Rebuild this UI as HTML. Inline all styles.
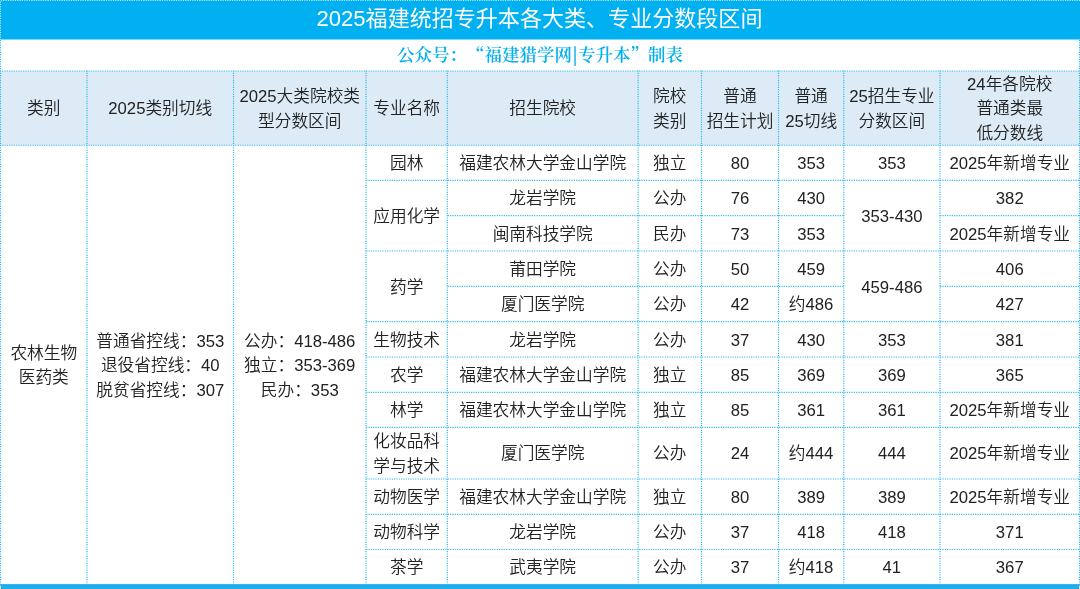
<!DOCTYPE html>
<html lang="zh-CN">
<head>
<meta charset="utf-8">
<title>2025福建统招专升本各大类、专业分数段区间</title>
<style>
html,body{margin:0;padding:0;}
body{width:1080px;height:589px;position:relative;overflow:hidden;background:#fff;
 font-family:"Liberation Sans","Noto Sans CJK SC",sans-serif;color:#222;font-weight:350;text-spacing-trim:space-all;}
svg{position:absolute;left:0;top:0;}
#title{position:absolute;left:-0.5px;top:-1px;width:1080px;height:40px;color:#fff;font-weight:400;
 font-size:22.06px;line-height:40px;text-align:center;white-space:nowrap;}
#sub{position:absolute;left:0;top:39px;width:1080px;height:30px;color:#00b0f0;
 font-family:"Liberation Serif","Noto Serif CJK SC",serif;font-weight:600;font-size:17.5px;line-height:30px;text-align:center;white-space:nowrap;}
.q{font-family:"Noto Serif CJK SC",serif;}
.b{font-weight:900;}
.c{position:absolute;display:flex;align-items:center;justify-content:center;text-align:center;
 font-size:16.7px;line-height:24.5px;white-space:nowrap;}
</style>
</head>
<body>
<svg width="1080" height="589" viewBox="0 0 1080 589">
<rect x="0" y="0" width="1080" height="39.5" fill="#00b0f0"/>
<rect x="0" y="71" width="1080" height="74.25" fill="#ddebf7"/>
<rect x="0" y="584.2" width="1080" height="4.8" fill="#20aeea"/>
<rect x="0" y="584.6" width="1080" height="1" fill="#17a9e8"/>
<g stroke="#2bbaf2" stroke-width="1.1667" stroke-dasharray="1.1667 1.1667" fill="none">
<line x1="-0.25" y1="71" x2="1080" y2="71" stroke-dashoffset="0.000"/>
<line x1="-0.25" y1="145.25" x2="1080" y2="145.25" stroke-dashoffset="0.000"/>
<line x1="446.717" y1="180.4" x2="843.75" y2="180.4" stroke-dashoffset="1.287"/>
<line x1="939.417" y1="180.4" x2="1079.5" y2="180.4" stroke-dashoffset="1.640"/>
<line x1="365.417" y1="180.4" x2="447.3" y2="180.4" stroke-dashoffset="1.656"/>
<line x1="843.167" y1="180.4" x2="940" y2="180.4" stroke-dashoffset="1.059"/>
<line x1="446.717" y1="215.7" x2="843.75" y2="215.7" stroke-dashoffset="1.287"/>
<line x1="939.417" y1="215.7" x2="1079.5" y2="215.7" stroke-dashoffset="1.640"/>
<line x1="446.717" y1="251" x2="843.75" y2="251" stroke-dashoffset="1.287"/>
<line x1="939.417" y1="251" x2="1079.5" y2="251" stroke-dashoffset="1.640"/>
<line x1="365.417" y1="251" x2="447.3" y2="251" stroke-dashoffset="1.656"/>
<line x1="843.167" y1="251" x2="940" y2="251" stroke-dashoffset="1.059"/>
<line x1="446.717" y1="286.4" x2="843.75" y2="286.4" stroke-dashoffset="1.287"/>
<line x1="939.417" y1="286.4" x2="1079.5" y2="286.4" stroke-dashoffset="1.640"/>
<line x1="446.717" y1="321.7" x2="843.75" y2="321.7" stroke-dashoffset="1.287"/>
<line x1="939.417" y1="321.7" x2="1079.5" y2="321.7" stroke-dashoffset="1.640"/>
<line x1="365.417" y1="321.7" x2="447.3" y2="321.7" stroke-dashoffset="1.656"/>
<line x1="843.167" y1="321.7" x2="940" y2="321.7" stroke-dashoffset="1.059"/>
<line x1="446.717" y1="357" x2="843.75" y2="357" stroke-dashoffset="1.287"/>
<line x1="939.417" y1="357" x2="1079.5" y2="357" stroke-dashoffset="1.640"/>
<line x1="365.417" y1="357" x2="447.3" y2="357" stroke-dashoffset="1.656"/>
<line x1="843.167" y1="357" x2="940" y2="357" stroke-dashoffset="1.059"/>
<line x1="446.717" y1="392.3" x2="843.75" y2="392.3" stroke-dashoffset="1.287"/>
<line x1="939.417" y1="392.3" x2="1079.5" y2="392.3" stroke-dashoffset="1.640"/>
<line x1="365.417" y1="392.3" x2="447.3" y2="392.3" stroke-dashoffset="1.656"/>
<line x1="843.167" y1="392.3" x2="940" y2="392.3" stroke-dashoffset="1.059"/>
<line x1="446.717" y1="427.4" x2="843.75" y2="427.4" stroke-dashoffset="1.287"/>
<line x1="939.417" y1="427.4" x2="1079.5" y2="427.4" stroke-dashoffset="1.640"/>
<line x1="365.417" y1="427.4" x2="447.3" y2="427.4" stroke-dashoffset="1.656"/>
<line x1="843.167" y1="427.4" x2="940" y2="427.4" stroke-dashoffset="1.059"/>
<line x1="446.717" y1="479" x2="843.75" y2="479" stroke-dashoffset="1.287"/>
<line x1="939.417" y1="479" x2="1079.5" y2="479" stroke-dashoffset="1.640"/>
<line x1="365.417" y1="479" x2="447.3" y2="479" stroke-dashoffset="1.656"/>
<line x1="843.167" y1="479" x2="940" y2="479" stroke-dashoffset="1.059"/>
<line x1="446.717" y1="514.3" x2="843.75" y2="514.3" stroke-dashoffset="1.287"/>
<line x1="939.417" y1="514.3" x2="1079.5" y2="514.3" stroke-dashoffset="1.640"/>
<line x1="365.417" y1="514.3" x2="447.3" y2="514.3" stroke-dashoffset="1.656"/>
<line x1="843.167" y1="514.3" x2="940" y2="514.3" stroke-dashoffset="1.059"/>
<line x1="446.717" y1="549.5" x2="843.75" y2="549.5" stroke-dashoffset="1.287"/>
<line x1="939.417" y1="549.5" x2="1079.5" y2="549.5" stroke-dashoffset="1.640"/>
<line x1="365.417" y1="549.5" x2="447.3" y2="549.5" stroke-dashoffset="1.656"/>
<line x1="843.167" y1="549.5" x2="940" y2="549.5" stroke-dashoffset="1.059"/>
<line x1="87" y1="70.4167" x2="87" y2="584.2" stroke-dashoffset="0.025"/>
<line x1="233.5" y1="70.4167" x2="233.5" y2="584.2" stroke-dashoffset="0.025"/>
<line x1="366" y1="70.4167" x2="366" y2="584.2" stroke-dashoffset="0.025"/>
<line x1="447.3" y1="70.4167" x2="447.3" y2="584.2" stroke-dashoffset="0.025"/>
<line x1="638.1" y1="70.4167" x2="638.1" y2="584.2" stroke-dashoffset="0.025"/>
<line x1="701.5" y1="70.4167" x2="701.5" y2="584.2" stroke-dashoffset="0.025"/>
<line x1="778.5" y1="70.4167" x2="778.5" y2="584.2" stroke-dashoffset="0.025"/>
<line x1="843.75" y1="70.4167" x2="843.75" y2="584.2" stroke-dashoffset="0.025"/>
<line x1="940" y1="70.4167" x2="940" y2="584.2" stroke-dashoffset="0.025"/>
<line x1="0.5" y1="38.9166" x2="0.5" y2="584.2" stroke-dashoffset="1.192"/>
<line x1="1079.5" y1="38.9166" x2="1079.5" y2="584.2" stroke-dashoffset="1.192"/>
</g>
<g stroke="#fff" stroke-width="1" stroke-dasharray="1.1667 1.1667" fill="none" stroke-opacity="0.75">
<line x1="0.9167" y1="0.5" x2="1080" y2="0.5"/>
<line x1="0.5" y1="1.5567" x2="0.5" y2="39.5"/>
</g>
<rect x="0" y="585.6" width="1" height="3.4" fill="#e2e2e2"/>
<rect x="1079" y="585.6" width="1" height="3.4" fill="#e2e2e2"/>
</svg>
<div id="title">2025福建统招专升本各大类、专业分数段区间</div>
<div id="sub">公众号：<span class="q">“</span>福建猎学网<span class="q b">|</span>专升本<span class="q">”</span>制表</div>
<div class="c" style="left:0.5px;top:72.5px;width:86.5px;height:74.25px"><span>类别</span></div>
<div class="c" style="left:87px;top:72.5px;width:146.5px;height:74.25px"><span>2025类别切线</span></div>
<div class="c" style="left:233.5px;top:72.5px;width:132.5px;height:74.25px"><span>2025大类院校类<br>型分数区间</span></div>
<div class="c" style="left:366px;top:72.5px;width:81.3px;height:74.25px"><span>专业名称</span></div>
<div class="c" style="left:447.3px;top:72.5px;width:190.8px;height:74.25px"><span>招生院校</span></div>
<div class="c" style="left:638.1px;top:72.5px;width:63.4px;height:74.25px"><span>院校<br>类别</span></div>
<div class="c" style="left:701.5px;top:72.5px;width:77px;height:74.25px"><span>普通<br>招生计划</span></div>
<div class="c" style="left:778.5px;top:72.5px;width:65.25px;height:74.25px"><span>普通<br>25切线</span></div>
<div class="c" style="left:843.75px;top:72.5px;width:96.25px;height:74.25px"><span>25招生专业<br>分数区间</span></div>
<div class="c" style="left:940px;top:72.5px;width:139.5px;height:74.25px"><span>24年各院校<br>普通类最<br>低分数线</span></div>
<div class="c" style="left:0.5px;top:146.75px;width:86.5px;height:439.35px"><span>农林生物<br>医药类</span></div>
<div class="c" style="left:87px;top:146.75px;width:146.5px;height:439.35px"><span>普通省控线：353<br>退役省控线：40<br>脱贫省控线：307</span></div>
<div class="c" style="left:233.5px;top:146.75px;width:132.5px;height:439.35px"><span>公办：418-486<br>独立：353-369<br>民办：353</span></div>
<div class="c" style="left:366px;top:146.75px;width:81.3px;height:35.15px"><span>园林</span></div>
<div class="c" style="left:366px;top:181.9px;width:81.3px;height:70.6px"><span>应用化学</span></div>
<div class="c" style="left:366px;top:252.5px;width:81.3px;height:70.7px"><span>药学</span></div>
<div class="c" style="left:366px;top:323.2px;width:81.3px;height:35.3px"><span>生物技术</span></div>
<div class="c" style="left:366px;top:358.5px;width:81.3px;height:35.3px"><span>农学</span></div>
<div class="c" style="left:366px;top:393.8px;width:81.3px;height:35.1px"><span>林学</span></div>
<div class="c" style="left:366px;top:428.9px;width:81.3px;height:51.6px"><span>化妆品科<br>学与技术</span></div>
<div class="c" style="left:366px;top:480.5px;width:81.3px;height:35.3px"><span>动物医学</span></div>
<div class="c" style="left:366px;top:515.8px;width:81.3px;height:35.2px"><span>动物科学</span></div>
<div class="c" style="left:366px;top:551px;width:81.3px;height:35.1px"><span>茶学</span></div>
<div class="c" style="left:447.3px;top:146.75px;width:190.8px;height:35.15px"><span>福建农林大学金山学院</span></div>
<div class="c" style="left:638.1px;top:146.75px;width:63.4px;height:35.15px"><span>独立</span></div>
<div class="c" style="left:701.5px;top:146.75px;width:77px;height:35.15px"><span>80</span></div>
<div class="c" style="left:778.5px;top:146.75px;width:65.25px;height:35.15px"><span>353</span></div>
<div class="c" style="left:940px;top:146.75px;width:139.5px;height:35.15px"><span>2025年新增专业</span></div>
<div class="c" style="left:447.3px;top:181.9px;width:190.8px;height:35.3px"><span>龙岩学院</span></div>
<div class="c" style="left:638.1px;top:181.9px;width:63.4px;height:35.3px"><span>公办</span></div>
<div class="c" style="left:701.5px;top:181.9px;width:77px;height:35.3px"><span>76</span></div>
<div class="c" style="left:778.5px;top:181.9px;width:65.25px;height:35.3px"><span>430</span></div>
<div class="c" style="left:940px;top:181.9px;width:139.5px;height:35.3px"><span>382</span></div>
<div class="c" style="left:447.3px;top:217.2px;width:190.8px;height:35.3px"><span>闽南科技学院</span></div>
<div class="c" style="left:638.1px;top:217.2px;width:63.4px;height:35.3px"><span>民办</span></div>
<div class="c" style="left:701.5px;top:217.2px;width:77px;height:35.3px"><span>73</span></div>
<div class="c" style="left:778.5px;top:217.2px;width:65.25px;height:35.3px"><span>353</span></div>
<div class="c" style="left:940px;top:217.2px;width:139.5px;height:35.3px"><span>2025年新增专业</span></div>
<div class="c" style="left:447.3px;top:252.5px;width:190.8px;height:35.4px"><span>莆田学院</span></div>
<div class="c" style="left:638.1px;top:252.5px;width:63.4px;height:35.4px"><span>公办</span></div>
<div class="c" style="left:701.5px;top:252.5px;width:77px;height:35.4px"><span>50</span></div>
<div class="c" style="left:778.5px;top:252.5px;width:65.25px;height:35.4px"><span>459</span></div>
<div class="c" style="left:940px;top:252.5px;width:139.5px;height:35.4px"><span>406</span></div>
<div class="c" style="left:447.3px;top:287.9px;width:190.8px;height:35.3px"><span>厦门医学院</span></div>
<div class="c" style="left:638.1px;top:287.9px;width:63.4px;height:35.3px"><span>公办</span></div>
<div class="c" style="left:701.5px;top:287.9px;width:77px;height:35.3px"><span>42</span></div>
<div class="c" style="left:778.5px;top:287.9px;width:65.25px;height:35.3px"><span>约486</span></div>
<div class="c" style="left:940px;top:287.9px;width:139.5px;height:35.3px"><span>427</span></div>
<div class="c" style="left:447.3px;top:323.2px;width:190.8px;height:35.3px"><span>龙岩学院</span></div>
<div class="c" style="left:638.1px;top:323.2px;width:63.4px;height:35.3px"><span>公办</span></div>
<div class="c" style="left:701.5px;top:323.2px;width:77px;height:35.3px"><span>37</span></div>
<div class="c" style="left:778.5px;top:323.2px;width:65.25px;height:35.3px"><span>430</span></div>
<div class="c" style="left:940px;top:323.2px;width:139.5px;height:35.3px"><span>381</span></div>
<div class="c" style="left:447.3px;top:358.5px;width:190.8px;height:35.3px"><span>福建农林大学金山学院</span></div>
<div class="c" style="left:638.1px;top:358.5px;width:63.4px;height:35.3px"><span>独立</span></div>
<div class="c" style="left:701.5px;top:358.5px;width:77px;height:35.3px"><span>85</span></div>
<div class="c" style="left:778.5px;top:358.5px;width:65.25px;height:35.3px"><span>369</span></div>
<div class="c" style="left:940px;top:358.5px;width:139.5px;height:35.3px"><span>365</span></div>
<div class="c" style="left:447.3px;top:393.8px;width:190.8px;height:35.1px"><span>福建农林大学金山学院</span></div>
<div class="c" style="left:638.1px;top:393.8px;width:63.4px;height:35.1px"><span>独立</span></div>
<div class="c" style="left:701.5px;top:393.8px;width:77px;height:35.1px"><span>85</span></div>
<div class="c" style="left:778.5px;top:393.8px;width:65.25px;height:35.1px"><span>361</span></div>
<div class="c" style="left:940px;top:393.8px;width:139.5px;height:35.1px"><span>2025年新增专业</span></div>
<div class="c" style="left:447.3px;top:428.9px;width:190.8px;height:51.6px"><span>厦门医学院</span></div>
<div class="c" style="left:638.1px;top:428.9px;width:63.4px;height:51.6px"><span>公办</span></div>
<div class="c" style="left:701.5px;top:428.9px;width:77px;height:51.6px"><span>24</span></div>
<div class="c" style="left:778.5px;top:428.9px;width:65.25px;height:51.6px"><span>约444</span></div>
<div class="c" style="left:940px;top:428.9px;width:139.5px;height:51.6px"><span>2025年新增专业</span></div>
<div class="c" style="left:447.3px;top:480.5px;width:190.8px;height:35.3px"><span>福建农林大学金山学院</span></div>
<div class="c" style="left:638.1px;top:480.5px;width:63.4px;height:35.3px"><span>独立</span></div>
<div class="c" style="left:701.5px;top:480.5px;width:77px;height:35.3px"><span>80</span></div>
<div class="c" style="left:778.5px;top:480.5px;width:65.25px;height:35.3px"><span>389</span></div>
<div class="c" style="left:940px;top:480.5px;width:139.5px;height:35.3px"><span>2025年新增专业</span></div>
<div class="c" style="left:447.3px;top:515.8px;width:190.8px;height:35.2px"><span>龙岩学院</span></div>
<div class="c" style="left:638.1px;top:515.8px;width:63.4px;height:35.2px"><span>公办</span></div>
<div class="c" style="left:701.5px;top:515.8px;width:77px;height:35.2px"><span>37</span></div>
<div class="c" style="left:778.5px;top:515.8px;width:65.25px;height:35.2px"><span>418</span></div>
<div class="c" style="left:940px;top:515.8px;width:139.5px;height:35.2px"><span>371</span></div>
<div class="c" style="left:447.3px;top:551px;width:190.8px;height:35.1px"><span>武夷学院</span></div>
<div class="c" style="left:638.1px;top:551px;width:63.4px;height:35.1px"><span>公办</span></div>
<div class="c" style="left:701.5px;top:551px;width:77px;height:35.1px"><span>37</span></div>
<div class="c" style="left:778.5px;top:551px;width:65.25px;height:35.1px"><span>约418</span></div>
<div class="c" style="left:940px;top:551px;width:139.5px;height:35.1px"><span>367</span></div>
<div class="c" style="left:843.75px;top:146.75px;width:96.25px;height:35.15px"><span>353</span></div>
<div class="c" style="left:843.75px;top:181.9px;width:96.25px;height:70.6px"><span>353-430</span></div>
<div class="c" style="left:843.75px;top:252.5px;width:96.25px;height:70.7px"><span>459-486</span></div>
<div class="c" style="left:843.75px;top:323.2px;width:96.25px;height:35.3px"><span>353</span></div>
<div class="c" style="left:843.75px;top:358.5px;width:96.25px;height:35.3px"><span>369</span></div>
<div class="c" style="left:843.75px;top:393.8px;width:96.25px;height:35.1px"><span>361</span></div>
<div class="c" style="left:843.75px;top:428.9px;width:96.25px;height:51.6px"><span>444</span></div>
<div class="c" style="left:843.75px;top:480.5px;width:96.25px;height:35.3px"><span>389</span></div>
<div class="c" style="left:843.75px;top:515.8px;width:96.25px;height:35.2px"><span>418</span></div>
<div class="c" style="left:843.75px;top:551px;width:96.25px;height:35.1px"><span>41</span></div>
</body>
</html>
